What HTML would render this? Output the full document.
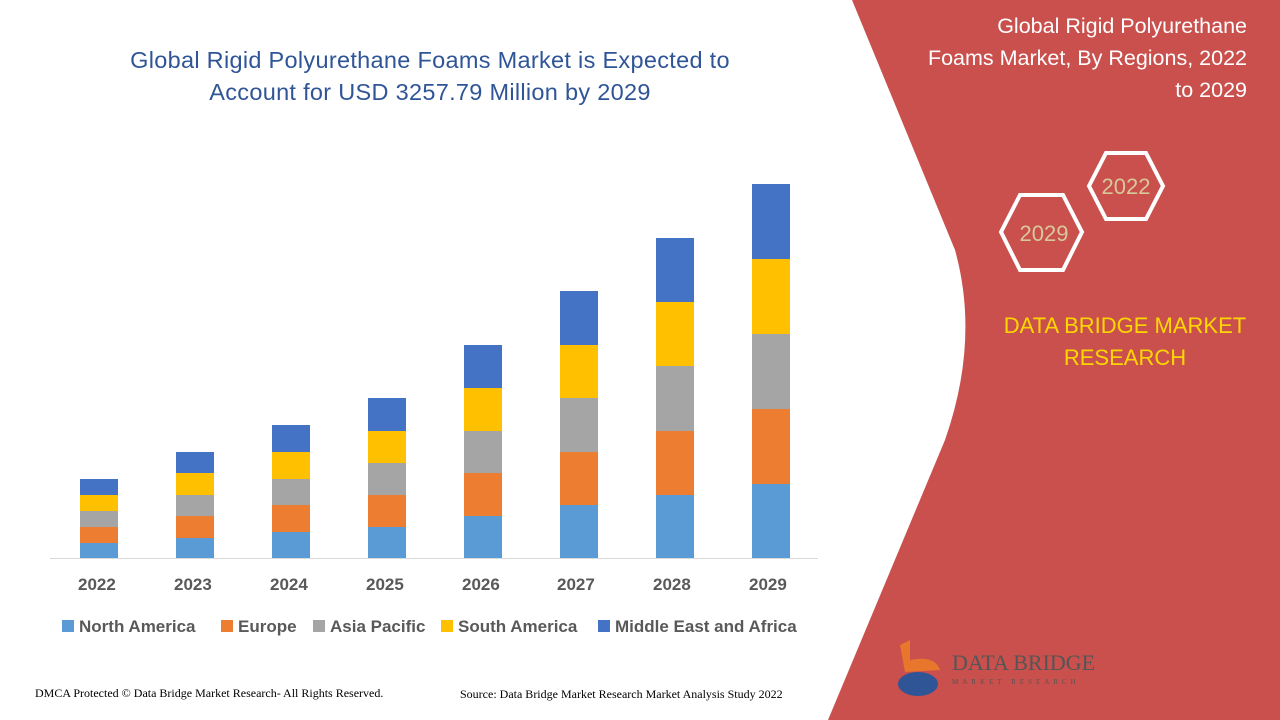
<!DOCTYPE html>
<html><head><meta charset="utf-8"><style>
body{margin:0;width:1280px;height:720px;overflow:hidden;background:#fff;font-family:"Liberation Sans",sans-serif;position:relative}
.t{position:absolute;white-space:nowrap}
.lg{position:absolute;top:617px;font-weight:bold;font-size:17px;color:#595959;white-space:nowrap}
.lg i{display:inline-block;width:12px;height:12px;margin-right:5px}
</style></head><body>
<svg width="1280" height="720" style="position:absolute;left:0;top:0">
<path d="M852,0 L1280,0 L1280,720 L828,720 L945,440 Q980,340 955,250 Z" fill="#c9504d"/>
<line x1="50" y1="558.5" x2="818" y2="558.5" stroke="#d9d9d9" stroke-width="1"/>
<g id="bars"></g>
<polygon points="1089,186 1106,153 1146,153 1163,186 1146,219 1106,219" fill="none" stroke="#fff" stroke-width="4"/>
<polygon points="1001,232 1020,195 1063,195 1082,232 1063,270 1020,270" fill="none" stroke="#fff" stroke-width="4"/>
<text x="1126" y="194" font-size="22" fill="#d8c89a" text-anchor="middle" font-family="Liberation Sans">2022</text>
<text x="1044" y="241" font-size="22" fill="#d8c89a" text-anchor="middle" font-family="Liberation Sans">2029</text>
<path d="M900,645 L910,640 L910,660 Q935,655 940,670 L905,672 Z" fill="#e8762d"/>
<ellipse cx="918" cy="684" rx="20" ry="12" fill="#2f5597"/>
<text x="952" y="670" font-size="22" fill="#555" font-family="Liberation Serif">DATA BRIDGE</text>
<text x="952" y="684" font-size="7" fill="#555" letter-spacing="4" font-family="Liberation Serif">MARKET RESEARCH</text>
</svg>
<script>
var d=[[543,527,511,495,479],[538,516,495,473,452],[532,505,479,452,425],[527,495,463,431,398],[516,473,431,388,345],[505,452,398,345,291],[495,431,366,302,238],[484,409,334,259,184]];
var c=["#5b9bd5","#ed7d31","#a5a5a5","#ffc000","#4472c4"];var s="";
d.forEach(function(b,i){var x=80+i*96,prev=558;b.forEach(function(t,j){s+='<rect x="'+x+'" y="'+t+'" width="38" height="'+(prev-t)+'" fill="'+c[j]+'"/>';prev=t;});});
document.getElementById("bars").innerHTML=s;
</script>
<div class="t" style="left:80px;top:44px;width:700px;text-align:center;font-size:23.5px;line-height:32px;color:#2f5597;letter-spacing:0.3px">Global Rigid Polyurethane Foams Market is Expected to<br>Account for USD 3257.79 Million by 2029</div>
<div class="t" style="left:860px;top:10px;width:387px;text-align:right;font-size:21.5px;line-height:32px;color:#fff">Global Rigid Polyurethane<br>Foams Market, By Regions, 2022<br>to 2029</div>
<div class="t" style="left:980px;top:310px;width:290px;text-align:center;font-size:22px;line-height:32px;color:#ffd700">DATA BRIDGE MARKET<br>RESEARCH</div>
<div style="position:absolute;left:0;top:575px;font-weight:bold;font-size:17px;color:#595959">
<span class="t" style="left:78px">2022</span><span class="t" style="left:174px">2023</span><span class="t" style="left:270px">2024</span><span class="t" style="left:366px">2025</span><span class="t" style="left:462px">2026</span><span class="t" style="left:557px">2027</span><span class="t" style="left:653px">2028</span><span class="t" style="left:749px">2029</span>
</div>
<div class="lg" style="left:62px"><i style="background:#5b9bd5"></i>North America</div>
<div class="lg" style="left:221px"><i style="background:#ed7d31"></i>Europe</div>
<div class="lg" style="left:313px"><i style="background:#a5a5a5"></i>Asia Pacific</div>
<div class="lg" style="left:441px"><i style="background:#ffc000"></i>South America</div>
<div class="lg" style="left:598px"><i style="background:#4472c4"></i>Middle East and Africa</div>
<div class="t" style="left:35px;top:686px;font-size:12px;font-family:'Liberation Serif',serif;color:#000">DMCA Protected © Data Bridge Market Research- All Rights Reserved.</div>
<div class="t" style="left:460px;top:687px;font-size:12px;font-family:'Liberation Serif',serif;color:#000">Source: Data Bridge Market Research Market Analysis Study 2022</div>
</body></html>
